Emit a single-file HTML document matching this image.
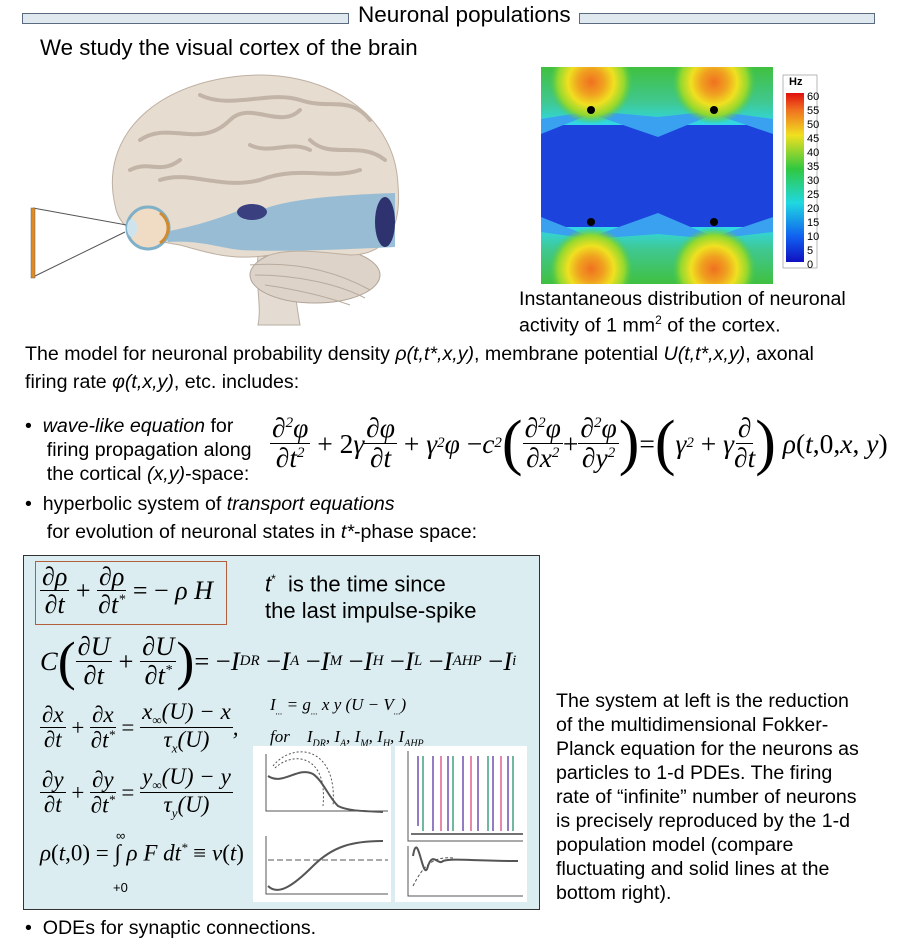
<!DOCTYPE html>
<html><head><meta charset="utf-8"><style>
body{margin:0;width:898px;height:948px;background:#fff;position:relative;overflow:hidden;font-family:"Liberation Sans",sans-serif;color:#000}
.a{position:absolute;white-space:nowrap}
.m{font-family:"Liberation Serif",serif;font-style:italic}
.f{display:inline-flex;flex-direction:column;align-items:center;vertical-align:middle;line-height:1.05}
.f>span:first-child{border-bottom:1.3px solid #000;padding:0 2px}
.p{font-family:"Liberation Serif",serif;font-style:normal}
.t{font-size:19.6px;line-height:24px}
</style></head><body>
<!-- title -->
<div class="a" style="left:22px;top:13px;width:325px;height:9px;background:#dfe7ef;border:1px solid #5a6b80"></div>
<div class="a" style="left:579px;top:13px;width:294px;height:9px;background:#dfe7ef;border:1px solid #5a6b80"></div>
<div class="a" style="left:358px;top:2px;font-size:22.5px">Neuronal populations</div>
<div class="a" style="left:40px;top:35px;font-size:22.3px">We study the visual cortex of the brain</div>

<!-- brain -->
<svg class="a" style="left:0;top:0" width="530" height="330">
<path d="M258 255 C255 285 262 305 258 325 L300 325 C296 300 292 285 300 265Z" fill="#e4dcd2" stroke="#b8aea4"/>
<ellipse cx="315" cy="275" rx="65" ry="28" fill="#ddd3c8" stroke="#b0a498"/>
<path d="M250 265 C290 262 330 268 370 290 M255 275 C300 275 340 285 365 298 M265 285 C300 290 330 298 350 305" stroke="#b8ab9e" fill="none"/>
<path d="M115 205 C100 140 150 85 240 76 C320 68 395 110 398 185 C402 230 385 255 350 255 C320 252 290 248 270 255 C230 262 200 250 180 245 C150 240 120 235 115 205Z" fill="#e6dcd0" stroke="#bdb0a2"/>
<g stroke="#c2b4a6" fill="none" stroke-width="4" stroke-linecap="round">
<path d="M140 140 C170 120 200 150 230 120 C250 100 280 130 300 110"/>
<path d="M160 180 C190 170 220 190 260 180 C300 165 330 180 360 170"/>
<path d="M200 95 C230 110 270 90 300 100 C330 110 350 95 370 120"/>
<path d="M310 140 C330 160 360 140 385 160"/>
<path d="M130 170 C150 160 160 175 180 160"/>
<path d="M250 145 C270 155 290 140 310 150"/></g>
<path d="M165 232 C200 225 220 218 240 210 L245 220 C260 205 300 196 395 193 L395 247 C330 250 280 252 240 250 C220 248 200 240 168 242Z" fill="#8fb8d4" opacity="0.9"/>
<ellipse cx="252" cy="212" rx="15" ry="8" fill="#3a3f80"/>
<ellipse cx="385" cy="222" rx="10" ry="25" fill="#2e326e"/>
<line x1="33" y1="208" x2="132" y2="226" stroke="#555"/><line x1="33" y1="277" x2="125" y2="232" stroke="#555"/>
<circle cx="148" cy="228" r="21" fill="#f0dcc4" stroke="#7fb0c8" stroke-width="3"/>
<path d="M160 213 A18 18 0 0 1 160 243" stroke="#d08a30" stroke-width="3" fill="none"/>
<ellipse cx="132" cy="228" rx="5" ry="9" fill="#cde4ee"/>
<rect x="31" y="208" width="4" height="70" fill="#e08a20" stroke="#666" stroke-width=".5"/>
</svg>

<!-- heatmap -->
<svg class="a" style="left:541px;top:67px" width="290" height="222">
<defs>
<clipPath id="c"><rect width="232" height="217"/></clipPath>
<radialGradient id="y"><stop offset="0" stop-color="#f07020"/><stop offset=".3" stop-color="#f0a020"/><stop offset=".55" stop-color="#f0e020"/><stop offset=".8" stop-color="#90d830"/><stop offset="1" stop-color="#50c840" stop-opacity="0"/></radialGradient>
<linearGradient id="cb" x1="0" y1="1" x2="0" y2="0"><stop offset="0" stop-color="#1010c0"/><stop offset=".15" stop-color="#1060f0"/><stop offset=".35" stop-color="#20d8e0"/><stop offset=".55" stop-color="#30c840"/><stop offset=".75" stop-color="#f0e020"/><stop offset=".9" stop-color="#f07020"/><stop offset="1" stop-color="#e01010"/></linearGradient>
<linearGradient id="tb" x1="0" y1="0" x2="0" y2="1"><stop offset="0" stop-color="#40c040"/><stop offset=".6" stop-color="#40c890"/><stop offset="1" stop-color="#30d8e8"/></linearGradient>
<linearGradient id="bb" x1="0" y1="1" x2="0" y2="0"><stop offset="0" stop-color="#40c040"/><stop offset=".6" stop-color="#40c890"/><stop offset="1" stop-color="#30d8e8"/></linearGradient>
</defs>
<g clip-path="url(#c)">
<rect width="232" height="217" fill="#1c44dc"/>
<rect y="0" width="232" height="58" fill="url(#tb)"/>
<rect y="160" width="232" height="57" fill="url(#bb)"/>
<polygon points="0,52 50,44 117,50 173,44 232,52 232,67 173,47 117,70 50,47 0,67" fill="#3aa0f0"/>
<polygon points="0,165 50,172 117,167 173,172 232,165 232,150 173,170 117,146 50,170 0,150" fill="#3aa0f0"/>
<ellipse cx="50" cy="15" rx="42" ry="42" fill="url(#y)"/><ellipse cx="173" cy="15" rx="42" ry="42" fill="url(#y)"/>
<ellipse cx="50" cy="202" rx="42" ry="42" fill="url(#y)"/><ellipse cx="173" cy="202" rx="42" ry="42" fill="url(#y)"/>
</g>
<circle cx="50" cy="43" r="4"/><circle cx="173" cy="43" r="4"/><circle cx="50" cy="155" r="4"/><circle cx="173" cy="155" r="4"/>
<rect x="242" y="8" width="34" height="193" fill="#fff" stroke="#999" stroke-width=".7"/>
<rect x="245" y="26" width="18" height="169" fill="url(#cb)"/>
<g font-size="11" font-family="Liberation Sans"><text x="248" y="18" font-weight="bold">Hz</text>
<text x="266" y="33">60</text><text x="266" y="47">55</text><text x="266" y="61">50</text><text x="266" y="75">45</text><text x="266" y="89">40</text><text x="266" y="103">35</text><text x="266" y="117">30</text><text x="266" y="131">25</text><text x="266" y="145">20</text><text x="266" y="159">15</text><text x="266" y="173">10</text><text x="266" y="187">5</text><text x="266" y="201">0</text></g>
</svg>
<div class="a t" style="left:519px;top:289px;line-height:21px">Instantaneous distribution of neuronal<br>activity of 1 mm<sup style="font-size:12px">2</sup> of the cortex.</div>

<div class="a t" style="left:25px;top:340px;line-height:28px">The model for neuronal probability density <i>ρ(t,t*,x,y)</i>, membrane potential <i>U(t,t*,x,y)</i>, axonal<br>firing rate <i>φ(t,x,y)</i>, etc. includes:</div>

<div class="a t" style="left:25px;top:414px">•&nbsp; <i>wave-like equation</i> for<br>&nbsp;&nbsp;&nbsp; firing propagation along<br>&nbsp;&nbsp;&nbsp; the cortical <i>(x,y)</i>-space:</div>
<div class="a m" style="left:270px;top:408px;font-size:27.5px;display:flex;align-items:center">
<span class="f"><span>∂<sup style="font-size:15px">2</sup>φ</span><span>∂t<sup style="font-size:15px">2</sup></span></span><span class="p">&nbsp;+ 2</span>γ<span class="f"><span>∂φ</span><span>∂t</span></span><span class="p">&nbsp;+&nbsp;</span>γ<sup style="font-size:15px">2</sup>φ<span class="p">&nbsp;− </span>c<sup style="font-size:15px">2</sup><span class="p" style="font-size:62px;font-weight:100">(</span><span class="f"><span>∂<sup style="font-size:15px">2</sup>φ</span><span>∂x<sup style="font-size:15px">2</sup></span></span><span class="p">+</span><span class="f"><span>∂<sup style="font-size:15px">2</sup>φ</span><span>∂y<sup style="font-size:15px">2</sup></span></span><span class="p" style="font-size:62px">)</span><span class="p">=</span><span class="p" style="font-size:62px">(</span>γ<sup style="font-size:15px">2</sup><span class="p">&nbsp;+&nbsp;</span>γ<span class="f"><span>∂</span><span>∂t</span></span><span class="p" style="font-size:62px">)</span>&nbsp;ρ<span class="p">(</span>t<span class="p">,0,</span>x<span class="p">,</span>&nbsp;y<span class="p">)</span></div>

<div class="a t" style="left:25px;top:490px;line-height:28px">•&nbsp; hyperbolic system of <i>transport equations</i><br>&nbsp;&nbsp;&nbsp; for evolution of neuronal states in <i>t*</i>-phase space:</div>

<!-- box -->
<div class="a" style="left:23px;top:555px;width:515px;height:353px;background:#dcedf1;border:1.5px solid #333"></div>
<div class="a" style="left:35px;top:561px;width:190px;height:62px;border:1.5px solid #b0603a"></div>
<div class="a m" style="left:40px;top:563px;font-size:26px;display:flex;align-items:center"><span class="f"><span>∂ρ</span><span>∂t</span></span><span class="p">&nbsp;+&nbsp;</span><span class="f"><span>∂ρ</span><span>∂t<sup style="font-size:14px">*</sup></span></span><span class="p">&nbsp;= −</span>&nbsp;ρ H</div>
<div class="a" style="left:265px;top:566px;font-size:22px;line-height:27px"><i>t</i><sup style="font-size:12px">*</sup>&nbsp; is the time since<br>the last impulse-spike</div>
<div class="a m" style="left:40px;top:630px;font-size:26.5px;display:flex;align-items:center">C<span class="p" style="font-size:54px">(</span><span class="f"><span>∂U</span><span>∂t</span></span><span class="p">&nbsp;+&nbsp;</span><span class="f"><span>∂U</span><span>∂t<sup style="font-size:14px">*</sup></span></span><span class="p" style="font-size:54px">)</span><span class="p">= −</span>I<sub style="font-size:15px">DR</sub><span class="p">&nbsp;− </span>I<sub style="font-size:15px">A</sub><span class="p">&nbsp;− </span>I<sub style="font-size:15px">M</sub><span class="p">&nbsp;− </span>I<sub style="font-size:15px">H</sub><span class="p">&nbsp;− </span>I<sub style="font-size:15px">L</sub><span class="p">&nbsp;− </span>I<sub style="font-size:15px">AHP</sub><span class="p">&nbsp;− </span>I<sub style="font-size:15px">i</sub></div>
<div class="a m" style="left:40px;top:700px;font-size:23px;display:flex;align-items:center"><span class="f"><span>∂x</span><span>∂t</span></span><span class="p">&nbsp;+&nbsp;</span><span class="f"><span>∂x</span><span>∂t<sup style="font-size:13px">*</sup></span></span><span class="p">&nbsp;=&nbsp;</span><span class="f"><span>x<sub style="font-size:13px">∞</sub>(U) − x</span><span>τ<sub style="font-size:13px">x</sub>(U)</span></span>,</div>
<div class="a m" style="left:40px;top:765px;font-size:23px;display:flex;align-items:center"><span class="f"><span>∂y</span><span>∂t</span></span><span class="p">&nbsp;+&nbsp;</span><span class="f"><span>∂y</span><span>∂t<sup style="font-size:13px">*</sup></span></span><span class="p">&nbsp;=&nbsp;</span><span class="f"><span>y<sub style="font-size:13px">∞</sub>(U) − y</span><span>τ<sub style="font-size:13px">y</sub>(U)</span></span></div>
<div class="a m" style="left:40px;top:840px;font-size:23px">ρ<span class="p">(</span>t<span class="p">,0) = ∫</span> ρ F dt<sup style="font-size:13px">*</sup><span class="p"> ≡ </span>ν<span class="p">(</span>t<span class="p">)</span></div>
<div class="a" style="left:116px;top:828px;font-size:13px">∞</div><div class="a" style="left:113px;top:880px;font-size:13px">+0</div>
<div class="a m" style="left:270px;top:692px;font-size:17px;line-height:25px">I<sub style="font-size:9px">...</sub> = g<sub style="font-size:9px">...</sub> x y (U − V<sub style="font-size:9px">...</sub>)<br>for&nbsp;&nbsp;&nbsp; I<sub style="font-size:10px">DR</sub>, I<sub style="font-size:10px">A</sub>, I<sub style="font-size:10px">M</sub>, I<sub style="font-size:10px">H</sub>, I<sub style="font-size:10px">AHP</sub></div>
<!-- plots -->
<svg class="a" style="left:253px;top:746px" width="286" height="158">
<rect x="0" y="0" width="138" height="156" fill="#fff"/><rect x="142" y="0" width="132" height="156" fill="#fff"/>
<g stroke="#555" fill="none"><path d="M13 8V65H135M13 90V148H135"/>
<path d="M15 30C30 40 45 20 60 28C70 35 75 50 85 60C95 65 110 65 130 66" stroke-width="2"/>
<path d="M15 140C25 150 40 140 60 120C80 100 100 95 130 95" stroke-width="2"/>
<path d="M15 114H135" stroke-dasharray="6 3"/>
<path d="M20 20C40 -5 85 0 80 60M22 22C40 5 75 8 70 60" stroke-dasharray="2 2"/>
<path d="M155 5V95H270M155 100V150H270"/>
<path d="M160 110C165 80 170 140 175 120C180 105 185 120 190 115C200 112 220 115 265 115" stroke-width="2"/>
<path d="M160 140C170 120 180 110 200 112" stroke-dasharray="3 2"/></g>
<g stroke-width="1.5"><path d="M165 80V10M180 85V10M195 85V10M210 85V10M225 85V10M240 85V10M255 85V10" stroke="#7050b0"/><path d="M170 85V10M200 85V10M235 85V10M260 85V10" stroke="#40a080"/><path d="M188 85V10M218 85V10M248 85V10" stroke="#e06090"/><path d="M158 88H270" stroke="#444"/></g>
</svg>

<div class="a t" style="left:556px;top:689px;line-height:24px">The system at left is the reduction<br>of the multidimensional Fokker-<br>Planck equation for the neurons as<br>particles to 1-d PDEs. The firing<br>rate of “infinite” number of neurons<br>is precisely reproduced by the 1-d<br>population model (compare<br>fluctuating and solid lines at the<br>bottom right).</div>

<div class="a t" style="left:25px;top:916px">•&nbsp; ODEs for synaptic connections.</div>
</body></html>
